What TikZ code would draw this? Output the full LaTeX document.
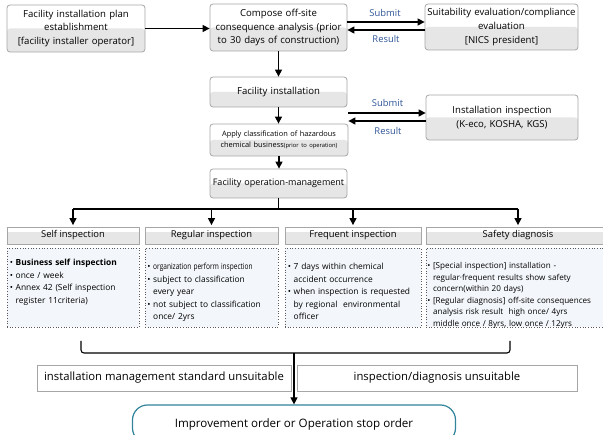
\documentclass[tikz,border=0pt]{standalone}
\usepackage{fontspec}
\usepackage{graphicx}
\setmainfont{Open Sans}
\usetikzlibrary{arrows.meta,calc}
\definecolor{bordergray}{HTML}{A6A6A6}
\definecolor{lowgray}{HTML}{E6E6E6}
\definecolor{lblblue}{HTML}{2F5597}
\definecolor{contfill}{HTML}{F3F6FA}
\definecolor{dotgray}{HTML}{595959}
\definecolor{ovalteal}{HTML}{31849B}
\newcommand\myitem{\par\hangindent=0.7em\hangafter=1\noindent\makebox[0.7em][l]{•}}
\tikzset{
  twotone/.style={path picture={\fill[lowgray] ($(path picture bounding box.north west)!#1!(path picture bounding box.south west)$) rectangle (path picture bounding box.south east);}},
  tbox/.style={draw=bordergray, line width=0.8pt, fill=white, twotone=0.5, rounded corners=3pt, inner sep=0pt, align=center, font=\fontsize{9.6}{13.8}\selectfont},
  hbox/.style={draw=bordergray, line width=0.8pt, fill=white, twotone=0.3, inner sep=0pt, minimum height=17pt, font=\fontsize{9.4}{11}\selectfont},
  cbox/.style={draw=dotgray, dotted, line width=0.7pt, fill=contfill, inner sep=0pt, minimum height=79pt},
  ctext/.style={anchor=north west, inner sep=0pt, align=left, font=\fontsize{8.4}{12.6}\selectfont},
  rbox/.style={draw=bordergray, line width=0.8pt, fill=white, inner sep=0pt, minimum height=26pt, font=\fontsize{11.3}{13}\selectfont},
  lbl/.style={text=lblblue, inner sep=0pt, font=\fontsize{9.4}{11}\selectfont},
  arr/.style={-{Triangle[width=7pt,length=7pt]}, line width=1.3pt},
  conn/.style={line width=1.3pt},
}
\begin{document}
\begin{tikzpicture}[x=1pt,y=-1pt]
\useasboundingbox (0,0) rectangle (603,435);
\clip (0,0) rectangle (603,435);
% top row
\node[tbox, minimum width=138pt, minimum height=47pt, text width=134pt] (A) at (76,28.5) {Facility installation plan\\ establishment\\ {[facility installer operator]}};
\node[tbox, minimum width=137pt, minimum height=47pt, text width=134pt] (B) at (278.5,27.5) {Compose off-site\\ consequence analysis (prior\\ to 30 days of construction)};
\node[tbox, minimum width=153pt, minimum height=46pt, text width=151pt] (C) at (501.5,27) {Suitability evaluation/compliance\\ evaluation\\ {[NICS president]}};
\draw[arr] (A.east) -- (A.east -| B.west);
\draw[arr] ([yshift=5.5pt]B.east) -- ([yshift=5.5pt]B.east -| C.west);
\draw[arr] ([yshift=-3pt]C.west) -- ([yshift=-3pt]C.west -| B.east);
\node[lbl] (s1) at (385,13) {Submit};
\node[lbl] (r1) at (386,39) {Result};
% middle column
\node[tbox, minimum width=137pt, minimum height=30pt, text width=134pt] (D) at (278.5,92) {Facility installation};
\node[tbox, minimum width=138pt, minimum height=32pt, text width=136pt, font=\fontsize{7.4}{10.5}\selectfont] (E) at (279,140) {Apply classification of hazardous\\ chemical business{\fontsize{5.8}{10.5}\selectfont(prior to operation)}};
\node[tbox, minimum width=137pt, minimum height=29pt, text width=135pt, font=\fontsize{9}{11}\selectfont] (F) at (278.5,183.5) {Facility operation-management};
\node[tbox, minimum width=152pt, minimum height=45pt, text width=150pt] (G) at (502,117.5) {Installation inspection\\ (K-eco, KOSHA, KGS)};
\draw[arr] (B.south) -- (B.south |- D.north);
\draw[arr] (D.south) -- (D.south |- E.north);
\draw[arr] (E.south) -- (E.south |- F.north);
\draw[arr] ([yshift=4.5pt]G.west -| E.east) -- ([yshift=4.5pt]G.west);
\draw[arr] ([yshift=-3.5pt]G.west) -- ([yshift=-3.5pt]G.west -| E.east);
\node[lbl] (s2) at (387.5,103) {Submit};
\node[lbl] (r2) at (388,131) {Result};
% headers
\node[hbox, minimum width=132pt] (H1) at (73,235.5) {Self inspection};
\node[hbox, minimum width=133pt] (H2) at (211.5,235.5) {Regular inspection};
\node[hbox, minimum width=136pt] (H3) at (353,235.5) {Frequent inspection};
\node[hbox, minimum width=184pt] (H4) at (518,235.5) {Safety diagnosis};
% tree
\coordinate (j) at (278.5,209);
\draw[conn] (F.south) -- (j);
\draw[conn] (H1.north |- j) -- (H4.north |- j);
\draw[arr] (H1.north |- j) -- ([yshift=1.5pt]H1.north);
\draw[arr] (H2.north |- j) -- ([yshift=1.5pt]H2.north);
\draw[arr] (H3.north |- j) -- ([yshift=1.5pt]H3.north);
\draw[arr] (H4.north |- j) -- ([yshift=1.5pt]H4.north);
% content boxes
\node[cbox, minimum width=132pt] (C1) at (73,287.5) {};
\node[cbox, minimum width=133pt] (C2) at (211.5,287.5) {};
\node[cbox, minimum width=136pt] (C3) at (353,287.5) {};
\node[cbox, minimum width=184pt] (C4) at (518,287.5) {};
\node[ctext, text width=128pt] (T1) at ([xshift=3pt,yshift=-5pt]C1.north west) {%
\myitem\textbf{Business self inspection}
\myitem once / week
\myitem Annex 42 (Self inspection\newline register 11criteria)\par};
\node[ctext, text width=129pt] (T2) at ([xshift=2.5pt,yshift=-9pt]C2.north west) {%
\myitem\scalebox{0.78}[1]{organization perform inspection}
\myitem subject to classification\newline every year
\myitem not subject to classification\newline once/ 2yrs\par};
\node[ctext, text width=132pt] (T3) at ([xshift=3pt,yshift=-9pt]C3.north west) {%
\myitem 7 days within chemical\newline accident occurrence
\myitem when inspection is requested\newline by regional\ \ environmental\newline officer\par};
\node[ctext, text width=182pt, font=\fontsize{8.1}{11.6}\selectfont] (T4) at ([xshift=1.5pt,yshift=-9pt]C4.north west) {%
\myitem [Special inspection] installation -\newline regular·frequent results show safety\newline concern(within 20 days)
\myitem [Regular diagnosis] off-site consequences\newline analysis risk result\ \ high once/ 4yrs\newline middle once / 8yrs, low once / 12yrs\par};
% bracket
\coordinate (bl) at (81,341);
\coordinate (br) at (510,341);
\coordinate (bm) at (294,353);
\draw[line width=1.1pt, rounded corners=3pt] (bl) -- (bl |- bm) -- (br |- bm) -- (br);
% bottom
\node[rbox, minimum width=254pt] (R1) at (164,378) {installation management standard unsuitable};
\node[rbox, minimum width=280pt] (R2) at (437,378) {inspection/diagnosis unsuitable};
\node[draw=ovalteal, line width=1.2pt, fill=white, rounded corners=15pt, minimum width=323pt, minimum height=38pt, inner sep=0pt, font=\fontsize{11.6}{13}\selectfont] (O) at (294,424) {Improvement order or Operation stop order};
\draw[arr, line width=1.1pt] (bm) -- (bm |- O.north);
\end{tikzpicture}
\end{document}
